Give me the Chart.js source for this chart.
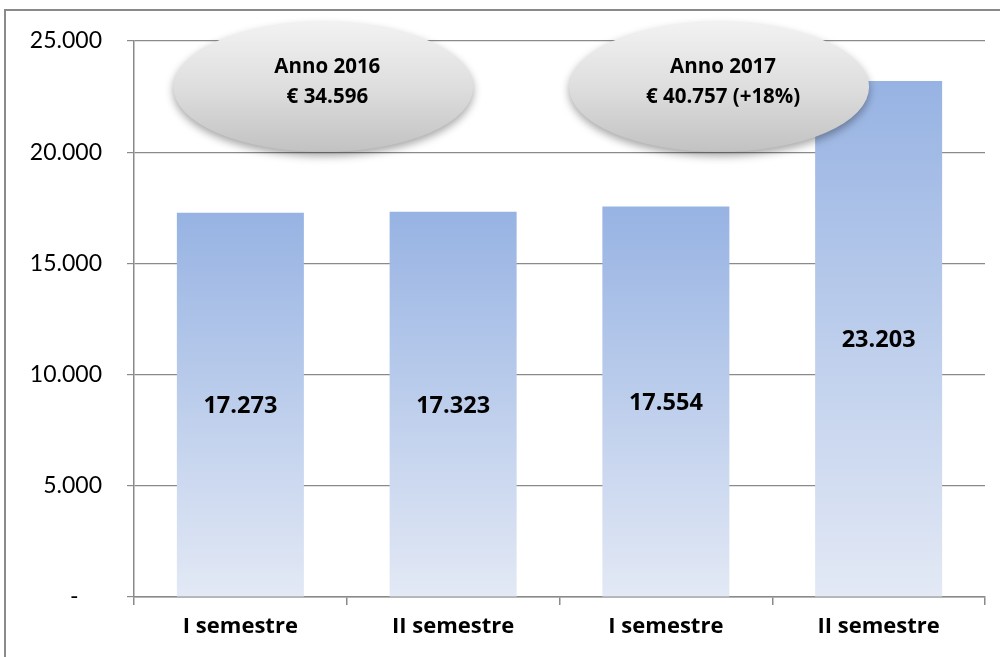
<!DOCTYPE html>
<html lang="it">
<head>
  <meta charset="UTF-8">
  <title>Semestri</title>
  <style>
    html, body { margin: 0; padding: 0; background: #fff; }
    #wrap { width: 1000px; height: 657px; }
  </style>
</head>
<body>
<div id="wrap"><canvas id="grafico"></canvas></div>

<script src="https://cdn.jsdelivr.net/npm/chart.js"></script>
<script>
  // dati
  const categorie = ['I semestre', 'II semestre', 'I semestre', 'II semestre'];
  const valori = [17273, 17323, 17554, 23203];
  const tickY = [0, 5000, 10000, 15000, 20000, 25000];
  const etichetteAnno = [['Anno 2016', '€ 34.596'], ['Anno 2017', '€ 40.757 (+18%)']];
  const posizioneAnno = [0.39, 2.25]; // indice categoria (decimale) del centro ellisse

  const FONT = 'Lato, "Open Sans", sans-serif';
  const FONT_B = '"Open Sans", Lato, sans-serif';
  const GRIGIO = '#8a8a8a';

  function formatta(n) {
    return String(Math.round(n)).replace(/\B(?=(\d{3})+(?!\d))/g, '.');
  }

  // cornice esterna (tagliata a destra e in basso come nell'originale)
  const cornice = {
    id: 'cornice',
    beforeDraw(chart) {
      const ctx = chart.ctx;
      ctx.save();
      ctx.strokeStyle = GRIGIO;
      ctx.lineWidth = 2;
      ctx.strokeRect(5, 10, 1000, 700);
      ctx.restore();
    }
  };

  // etichette dentro le barre
  const etichette = {
    id: 'etichette',
    afterDatasetsDraw(chart) {
      const ctx = chart.ctx;
      const meta = chart.getDatasetMeta(0);
      ctx.save();
      ctx.font = 'bold 23.5px ' + FONT_B;
      ctx.fillStyle = '#000';
      ctx.textAlign = 'center';
      ctx.textBaseline = 'middle';
      meta.data.forEach((bar, i) => {
        ctx.fillText(formatta(valori[i]), bar.x, (bar.y + bar.base) / 2 + 2);
      });
      ctx.restore();
    }
  };

  // ellissi con i totali annui
  const ellissi = {
    id: 'ellissi',
    afterDraw(chart) {
      const ctx = chart.ctx;
      const sx = chart.scales.x, sy = chart.scales.y;
      const cy = sy.getPixelForValue(22930);
      const rx = 150, ry = 65;
      etichetteAnno.forEach((righe, i) => {
        const cx = sx.getPixelForValue(posizioneAnno[i]);
        ctx.save();
        const g = ctx.createLinearGradient(0, cy - ry, 0, cy + ry);
        g.addColorStop(0, '#f2f2f2');
        g.addColorStop(0.5, '#dedede');
        g.addColorStop(1, '#c2c2c2');
        ctx.shadowColor = 'rgba(0,0,0,0.35)';
        ctx.shadowBlur = 9;
        ctx.shadowOffsetY = 4;
        ctx.fillStyle = g;
        ctx.beginPath();
        ctx.ellipse(cx, cy, rx, ry, 0, 0, Math.PI * 2);
        ctx.fill();
        ctx.restore();

        ctx.save();
        ctx.font = 'bold 20.5px ' + FONT_B;
        ctx.fillStyle = '#000';
        ctx.textAlign = 'center';
        ctx.textBaseline = 'middle';
        ctx.fillText(righe[0], cx + 4, cy - 20);
        ctx.fillText(righe[1], cx + 4, cy + 10);
        ctx.restore();
      });
    }
  };

  const ctx = document.getElementById('grafico').getContext('2d');
  new Chart(ctx, {
    type: 'bar',
    data: {
      labels: categorie,
      datasets: [{
        data: valori,
        backgroundColor: (c) => {
          const chart = c.chart;
          if (!chart.chartArea || c.raw === undefined) return '#a9bfe6';
          const y = chart.scales.y;
          const top = y.getPixelForValue(c.raw);
          const base = y.getPixelForValue(0);
          const g = chart.ctx.createLinearGradient(0, top, 0, base);
          g.addColorStop(0, '#97b3e3');
          g.addColorStop(1, '#e3e9f5');
          return g;
        },
        borderWidth: 0,
        categoryPercentage: 1,
        barPercentage: 0.597
      }]
    },
    options: {
      responsive: true,
      maintainAspectRatio: false,
      animation: false,
      layout: { padding: { top: 41, right: 15, left: 0, bottom: 0 } },
      plugins: {
        legend: { display: false },
        tooltip: { enabled: false }
      },
      scales: {
        x: {
          grid: { drawOnChartArea: false, drawTicks: true, tickLength: 8, color: GRIGIO, lineWidth: 1.5 },
          border: { color: GRIGIO, width: 1.5 },
          ticks: { color: '#000', padding: 9, font: { family: FONT_B, size: 22, weight: 'bold' } },
          afterFit(s) { s.height = 60; }
        },
        y: {
          min: 0,
          max: 25000,
          afterBuildTicks(s) { s.ticks = tickY.map(v => ({ value: v })); },
          grid: { color: GRIGIO, lineWidth: 1.2, tickLength: 7 },
          border: { color: GRIGIO, width: 1.5 },
          ticks: {
            color: '#000',
            padding: 25,
            font: { family: FONT, size: 23 },
            callback: v => v === 0 ? '-    ' : formatta(v)
          },
          afterFit(s) { s.width = 134; }
        }
      }
    },
    plugins: [cornice, etichette, ellissi]
  });
</script>
</body>
</html>
